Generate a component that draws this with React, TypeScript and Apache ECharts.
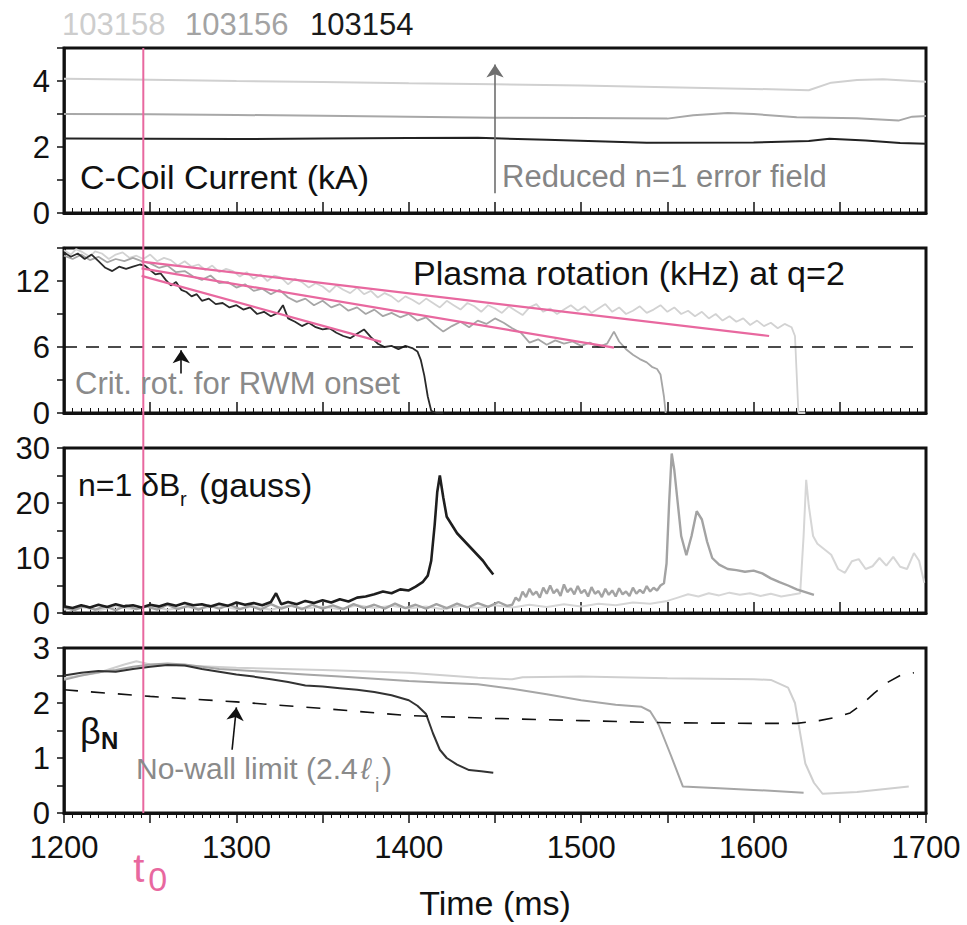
import React, { useEffect, useRef } from 'react';
import * as echarts from 'echarts';

const FONT = '"Liberation Sans", Arial, Helvetica, sans-serif';
const T0 = 1246;

// Shot labels
const shots = ['103158', '103156', '103154'];
const shotColors = ['#cdcdcd', '#a3a3a3', '#1a1a1a'];

// Panel 1: C-coil current (kA)
const coil158 = [[1200, 4.07], [1250, 4.04], [1300, 4.0], [1350, 3.97], [1400, 3.93], [1450, 3.9], [1500, 3.86], [1550, 3.81], [1600, 3.76], [1632, 3.72], [1645, 3.95], [1660, 4.03], [1675, 4.05], [1700, 3.98]];
const coil156 = [[1200, 3.0], [1250, 2.99], [1300, 2.97], [1350, 2.95], [1400, 2.92], [1450, 2.89], [1500, 2.88], [1550, 2.86], [1565, 2.96], [1585, 3.03], [1600, 3.0], [1625, 2.9], [1660, 2.87], [1684, 2.8], [1692, 2.92], [1700, 2.94]];
const coil154 = [[1200, 2.26], [1250, 2.25], [1300, 2.24], [1350, 2.26], [1400, 2.27], [1440, 2.28], [1480, 2.22], [1538, 2.13], [1600, 2.14], [1632, 2.18], [1644, 2.25], [1665, 2.2], [1685, 2.12], [1700, 2.1]];

// Panel 2: plasma rotation (kHz) at q=2
const rot158 = [[1200, 14.8], [1204, 14.4], [1207, 14.9], [1211, 14.6], [1215, 14.2], [1218, 14.7], [1222, 14.5], [1226, 14.0], [1230, 14.4], [1234, 14.6], [1238, 14.1], [1242, 14.3], [1246, 14.0], [1250, 14.4], [1254, 13.8], [1258, 14.1], [1262, 13.9], [1266, 13.4], [1270, 13.8], [1274, 13.3], [1278, 13.5], [1282, 13.0], [1286, 13.4], [1290, 12.8], [1294, 13.1], [1298, 12.9], [1302, 12.4], [1306, 12.8], [1310, 12.2], [1314, 12.6], [1318, 12.0], [1322, 12.5], [1326, 12.3], [1330, 11.7], [1334, 12.2], [1338, 11.9], [1342, 11.4], [1346, 11.8], [1350, 11.5], [1354, 11.0], [1358, 11.6], [1362, 11.2], [1366, 10.9], [1370, 11.4], [1374, 10.8], [1378, 11.1], [1382, 10.5], [1386, 10.9], [1390, 10.6], [1394, 10.1], [1398, 10.6], [1402, 10.3], [1406, 9.9], [1410, 10.4], [1414, 10.0], [1418, 9.6], [1422, 10.2], [1426, 9.8], [1430, 9.4], [1434, 10.0], [1438, 9.7], [1442, 9.2], [1446, 9.8], [1450, 9.5], [1454, 9.1], [1458, 9.7], [1462, 9.3], [1466, 8.9], [1470, 9.6], [1474, 9.9], [1478, 9.2], [1482, 9.5], [1486, 9.0], [1490, 9.4], [1494, 9.8], [1498, 9.3], [1502, 9.7], [1506, 9.1], [1510, 9.5], [1514, 9.9], [1518, 9.2], [1522, 9.6], [1526, 9.0], [1530, 9.3], [1534, 9.7], [1538, 9.1], [1542, 9.4], [1546, 9.8], [1550, 9.2], [1554, 9.6], [1558, 9.0], [1562, 9.3], [1566, 8.8], [1570, 9.2], [1574, 8.6], [1578, 9.0], [1582, 8.4], [1586, 8.8], [1590, 8.3], [1594, 8.6], [1598, 8.0], [1602, 8.4], [1606, 7.9], [1610, 8.2], [1614, 7.7], [1618, 8.1], [1622, 7.8], [1624, 7.0], [1625, 3.5], [1626, 0], [1630, 0]];
const rot156 = [[1200, 14.3], [1205, 14.0], [1210, 14.4], [1215, 13.9], [1220, 14.2], [1225, 13.7], [1230, 14.0], [1235, 13.8], [1240, 14.1], [1245, 13.8], [1250, 13.6], [1255, 13.2], [1260, 13.4], [1265, 12.8], [1270, 12.9], [1275, 12.4], [1280, 12.1], [1285, 12.5], [1290, 11.8], [1295, 11.9], [1300, 11.4], [1305, 11.7], [1310, 11.1], [1315, 11.3], [1320, 10.8], [1325, 11.2], [1330, 10.5], [1335, 10.1], [1340, 10.4], [1345, 9.8], [1350, 10.2], [1355, 9.6], [1360, 9.9], [1365, 9.3], [1370, 9.6], [1375, 9.0], [1380, 9.4], [1385, 8.8], [1390, 9.1], [1395, 8.7], [1400, 9.0], [1405, 8.4], [1410, 8.7], [1415, 8.0], [1420, 7.4], [1425, 7.9], [1430, 8.3], [1435, 7.8], [1440, 8.4], [1445, 8.1], [1450, 8.6], [1455, 8.2], [1460, 7.7], [1465, 7.3], [1470, 6.4], [1475, 6.7], [1480, 6.2], [1485, 6.6], [1490, 6.3], [1495, 6.5], [1500, 6.1], [1505, 6.4], [1510, 6.0], [1515, 6.3], [1519, 7.4], [1522, 6.5], [1526, 5.8], [1530, 5.3], [1534, 4.9], [1538, 4.6], [1541, 4.2], [1544, 4.0], [1546, 3.5], [1548, 1.5], [1549, 0]];
const rot154 = [[1200, 14.6], [1204, 14.2], [1208, 14.5], [1212, 14.0], [1216, 14.4], [1220, 13.8], [1224, 13.2], [1228, 12.9], [1232, 13.3], [1236, 13.1], [1240, 13.3], [1244, 13.5], [1247, 13.4], [1250, 13.0], [1253, 12.6], [1256, 12.7], [1259, 12.1], [1262, 11.6], [1265, 11.9], [1268, 11.2], [1271, 11.0], [1274, 10.6], [1277, 10.8], [1280, 10.2], [1284, 10.4], [1288, 9.9], [1292, 10.0], [1296, 9.6], [1300, 9.8], [1304, 9.4], [1308, 9.6], [1312, 9.0], [1316, 9.2], [1320, 8.8], [1324, 9.1], [1327, 9.8], [1330, 8.6], [1334, 8.3], [1338, 7.9], [1342, 8.2], [1346, 7.8], [1350, 7.6], [1354, 7.7], [1358, 7.3], [1362, 7.0], [1366, 6.8], [1370, 7.2], [1374, 7.6], [1378, 6.9], [1382, 6.3], [1386, 6.0], [1390, 6.1], [1394, 5.8], [1398, 6.1], [1402, 5.9], [1405, 5.6], [1407, 4.8], [1409, 3.4], [1411, 1.5], [1413, 0.2], [1416, 0], [1420, 0]];
const critRot = 6;
const fitLines = [[[1245, 13.76], [1609, 7.0]], [[1245, 13.15], [1519, 5.94]], [[1245, 12.47], [1384, 6.47]]];

// Panel 3: n=1 dBr (gauss)
const br158 = [[1200, 0.6], [1210, 1.1], [1220, 0.5], [1230, 1.2], [1240, 0.7], [1250, 1.3], [1260, 0.6], [1270, 1.1], [1280, 0.8], [1290, 1.4], [1300, 0.7], [1310, 1.2], [1320, 0.6], [1330, 1.3], [1340, 0.8], [1350, 1.2], [1360, 0.7], [1370, 1.4], [1380, 0.9], [1390, 1.3], [1400, 0.8], [1410, 1.2], [1420, 0.7], [1430, 1.3], [1440, 0.9], [1450, 1.4], [1460, 1.0], [1470, 1.5], [1480, 1.1], [1490, 1.6], [1500, 1.2], [1510, 1.7], [1520, 1.4], [1530, 1.9], [1540, 1.7], [1550, 2.2], [1556, 2.8], [1562, 3.4], [1568, 3.0], [1574, 3.6], [1580, 3.2], [1586, 3.7], [1592, 3.3], [1598, 3.6], [1604, 3.1], [1610, 3.5], [1616, 3.0], [1622, 3.3], [1627, 3.6], [1629, 14], [1630.5, 24.2], [1632, 19.5], [1634.5, 14], [1637, 12.6], [1641, 11.6], [1645, 10.6], [1649, 8.0], [1653, 7.3], [1657, 9.4], [1661, 9.8], [1665, 8.0], [1669, 8.5], [1673, 10.0], [1677, 8.6], [1681, 10.2], [1685, 8.4], [1689, 8.0], [1693, 10.9], [1696, 9.5], [1699, 5.5]];
const br156 = [[1200, 1.0], [1206, 0.5], [1212, 1.3], [1218, 0.6], [1224, 1.2], [1230, 0.5], [1236, 1.4], [1242, 0.7], [1248, 1.2], [1254, 0.6], [1260, 1.5], [1266, 0.7], [1272, 1.3], [1278, 0.6], [1284, 1.4], [1290, 0.8], [1296, 1.5], [1302, 0.7], [1308, 1.3], [1314, 0.6], [1320, 1.6], [1326, 0.8], [1332, 1.4], [1338, 0.7], [1344, 1.5], [1350, 0.8], [1356, 1.4], [1362, 0.7], [1368, 1.6], [1374, 0.9], [1380, 1.5], [1386, 0.8], [1392, 1.7], [1398, 0.9], [1404, 1.5], [1410, 0.8], [1416, 1.6], [1422, 0.9], [1428, 1.7], [1434, 1.0], [1440, 1.8], [1446, 1.1], [1452, 2.0], [1457, 1.3], [1460, 1.5], [1462, 2.8], [1464, 2.2], [1466, 3.9], [1468, 2.9], [1470, 4.4], [1472, 3.3], [1474, 3.9], [1476, 2.8], [1478, 4.6], [1480, 3.5], [1482, 5.0], [1484, 3.6], [1486, 4.3], [1488, 3.1], [1490, 5.2], [1492, 3.8], [1494, 4.5], [1496, 3.4], [1498, 4.9], [1500, 3.6], [1502, 4.2], [1504, 3.0], [1506, 4.7], [1508, 3.5], [1510, 4.0], [1512, 2.9], [1514, 4.4], [1516, 3.3], [1518, 4.1], [1520, 3.0], [1522, 4.5], [1524, 3.4], [1526, 3.9], [1528, 3.1], [1530, 4.6], [1532, 3.5], [1534, 4.2], [1536, 3.6], [1538, 4.9], [1540, 3.9], [1542, 4.6], [1544, 4.1], [1546, 5.0], [1548, 5.4], [1549.5, 9], [1551, 20], [1552.5, 29], [1554, 26], [1556, 20], [1558, 14], [1561, 10.5], [1564, 14], [1567, 18.5], [1570, 17], [1573, 13], [1576, 10], [1580, 8.8], [1585, 8.0], [1590, 7.8], [1595, 7.5], [1600, 7.7], [1605, 7.2], [1610, 6.3], [1615, 5.6], [1620, 5.0], [1625, 4.3], [1630, 3.8], [1635, 3.3]];
const br154 = [[1200, 1.2], [1205, 0.9], [1210, 1.4], [1215, 1.0], [1220, 1.5], [1225, 1.1], [1230, 1.6], [1235, 1.2], [1240, 1.4], [1245, 1.0], [1250, 1.5], [1255, 1.2], [1260, 1.7], [1265, 1.3], [1270, 1.8], [1275, 1.4], [1280, 1.6], [1285, 1.2], [1290, 1.7], [1295, 1.3], [1300, 1.9], [1305, 1.5], [1310, 1.8], [1315, 1.4], [1320, 2.0], [1323, 3.6], [1326, 1.6], [1330, 2.0], [1335, 1.6], [1340, 2.2], [1345, 1.8], [1350, 2.3], [1355, 1.9], [1360, 2.5], [1365, 2.1], [1370, 2.8], [1375, 3.0], [1380, 3.4], [1385, 3.9], [1390, 3.6], [1395, 4.3], [1400, 4.1], [1404, 4.8], [1408, 5.6], [1411, 6.8], [1413, 9.5], [1415, 16], [1416.5, 22], [1418, 25], [1420, 21], [1422, 17.5], [1425, 16], [1428, 14.5], [1431, 13.5], [1434, 12.5], [1437, 11.5], [1440, 10.5], [1443, 9.5], [1446, 8.2], [1449, 7.0]];

// Panel 4: beta_N
const beta158 = [[1200, 2.45], [1220, 2.55], [1235, 2.7], [1242, 2.76], [1250, 2.7], [1270, 2.68], [1300, 2.64], [1350, 2.6], [1400, 2.55], [1440, 2.46], [1460, 2.43], [1466, 2.47], [1500, 2.48], [1550, 2.45], [1600, 2.43], [1610, 2.42], [1620, 2.28], [1624, 2.0], [1630, 0.9], [1635, 0.55], [1640, 0.35], [1660, 0.38], [1690, 0.48]];
const beta156 = [[1200, 2.42], [1210, 2.5], [1220, 2.56], [1230, 2.6], [1240, 2.66], [1250, 2.7], [1260, 2.72], [1270, 2.7], [1280, 2.66], [1290, 2.62], [1300, 2.6], [1320, 2.56], [1340, 2.52], [1360, 2.48], [1380, 2.44], [1400, 2.4], [1420, 2.37], [1440, 2.34], [1460, 2.26], [1480, 2.16], [1500, 2.05], [1520, 1.97], [1535, 1.93], [1540, 1.85], [1545, 1.6], [1552, 1.05], [1559, 0.48], [1580, 0.45], [1600, 0.42], [1629, 0.37]];
const beta154 = [[1200, 2.5], [1210, 2.55], [1220, 2.58], [1230, 2.57], [1240, 2.62], [1250, 2.66], [1260, 2.69], [1270, 2.68], [1280, 2.62], [1290, 2.57], [1300, 2.52], [1310, 2.48], [1320, 2.43], [1330, 2.38], [1340, 2.32], [1350, 2.3], [1360, 2.27], [1370, 2.24], [1380, 2.2], [1390, 2.14], [1400, 2.05], [1405, 1.95], [1410, 1.8], [1414, 1.45], [1418, 1.15], [1422, 1.0], [1428, 0.88], [1435, 0.78], [1442, 0.76], [1449, 0.73]];
const noWall = [[1200, 2.24], [1250, 2.12], [1300, 2.02], [1350, 1.9], [1400, 1.77], [1450, 1.72], [1500, 1.68], [1550, 1.64], [1600, 1.63], [1625, 1.63], [1638, 1.68], [1648, 1.74], [1656, 1.82], [1663, 1.98], [1670, 2.18], [1678, 2.38], [1685, 2.5], [1693, 2.55]];

// Axis settings
const xMin = 1200;
const xMax = 1700;
const yMax = [5, 15, 30, 3];
const yStep = [1, 3, 5, 0.5];
const yLabelStep = [2, 6, 10, 1];
const gridTops = [48, 248, 448, 648];

const PINK = '#e8689f';

export default function App() {
  const ref = useRef<HTMLDivElement>(null);
  useEffect(() => {
    const chart = echarts.init(ref.current!, null, { renderer: 'svg' });
    const ln = (data: any, grid: number, color: string, width: number, z: number, extra: any = {}) => ({
      type: 'line', xAxisIndex: grid, yAxisIndex: grid, data, showSymbol: false, symbol: 'none',
      lineStyle: { color, width }, itemStyle: { color }, z, silent: true, ...extra,
    });
    const arrow = (from: number[], to: number[], color: string) => ({
      symbol: ['none', 'arrow'], symbolSize: 13, silent: true, label: { show: false },
      lineStyle: { color, width: 1.6, type: 'solid' },
      data: [[{ coord: from }, { coord: to }]],
    });
    const option: any = {
      animation: false,
      textStyle: { fontFamily: FONT },
      grid: gridTops.map((top) => ({ left: 64, right: 41, top, height: 165, show: true, borderColor: '#111', borderWidth: 3 })),
      xAxis: [0, 1, 2, 3].map((i) => ({
        type: 'value', gridIndex: i, min: xMin, max: xMax, interval: 50,
        axisLine: { show: true, onZero: false, lineStyle: { color: '#111', width: 3 } },
        axisTick: { show: true, inside: i < 3, length: i < 3 ? 11 : 10, lineStyle: { color: '#111', width: 1.5 } },
        minorTick: { show: true, splitNumber: 10, length: 5, lineStyle: { color: '#111', width: 1 } },
        splitLine: { show: false }, minorSplitLine: { show: false },
        axisLabel: i < 3 ? { show: false } : {
          show: true, fontSize: 31, color: '#111', fontFamily: FONT, margin: 19,
          formatter: (v: number) => (v % 100 === 0 ? String(v) : ''),
        },
        name: i === 3 ? 'Time (ms)' : '', nameLocation: 'middle', nameGap: 73,
        nameTextStyle: { fontSize: 34, color: '#111', fontFamily: FONT },
      })),
      yAxis: [0, 1, 2, 3].map((i) => ({
        type: 'value', gridIndex: i, min: 0, max: yMax[i], interval: yStep[i],
        axisLine: { show: true, lineStyle: { color: '#111', width: 2.5 } },
        axisTick: { show: true, length: 7, lineStyle: { color: '#111', width: 1.5 } },
        splitLine: { show: false },
        axisLabel: {
          fontSize: 31, color: '#111', fontFamily: FONT, margin: 14,
          formatter: (v: number) => (Math.abs(v / yLabelStep[i] - Math.round(v / yLabelStep[i])) < 1e-6 && v <= yMax[i] && !(i < 2 && v === yMax[i]) ? String(v) : ''),
        },
      })),
      series: [
        ln(coil158, 0, '#d0d0d0', 2, 2),
        ln(coil156, 0, '#a8a8a8', 2, 3),
        ln(coil154, 0, '#222', 2, 4, { markLine: arrow([1450, 0.6], [1450, 4.5], '#6f6f6f') }),

        ln(rot158, 1, '#d2d2d2', 1.8, 2),
        ln(rot156, 1, '#a6a6a6', 1.8, 3),
        ln(rot154, 1, '#2a2a2a', 1.8, 4),
        {
          type: 'line', xAxisIndex: 1, yAxisIndex: 1, data: [], z: 6, silent: true,
          markLine: {
            symbol: ['none', 'none'], silent: true, label: { show: false },
            lineStyle: { color: '#111', width: 1.6, type: [13, 9] },
            data: [[{ coord: [xMin, critRot] }, { coord: [1693, critRot] }]],
          },
        },
        {
          type: 'line', xAxisIndex: 1, yAxisIndex: 1, data: [], z: 7, silent: true,
          markLine: arrow([1268, 3.6], [1268, 5.7], '#111'),
        },
        {
          type: 'line', xAxisIndex: 1, yAxisIndex: 1, data: [], z: 8, silent: true,
          markLine: {
            symbol: ['none', 'none'], silent: true, label: { show: false },
            lineStyle: { color: PINK, width: 2.2, type: 'solid' },
            data: fitLines.map((f) => [{ coord: f[0] }, { coord: f[1] }]),
          },
        },

        ln(br158, 2, '#d6d6d6', 2, 2),
        ln(br156, 2, '#a3a3a3', 2.4, 3),
        ln(br154, 2, '#1e1e1e', 2.6, 4),

        ln(beta158, 3, '#cfcfcf', 2, 2),
        ln(beta156, 3, '#a6a6a6', 2, 3),
        ln(beta154, 3, '#333', 2, 4),
        ln(noWall, 3, '#111', 1.6, 5, {
          lineStyle: { color: '#111', width: 1.6, type: [14, 13] },
          markLine: arrow([1297.5, 1.15], [1300, 1.92], '#111'),
        }),
      ],
    };
    chart.setOption(option);

    const px = chart.convertToPixel({ xAxisIndex: 0 }, T0) as number;
    const yTop = chart.convertToPixel({ yAxisIndex: 0 }, yMax[0]) as number;
    const yBot = chart.convertToPixel({ yAxisIndex: 3 }, 0) as number;

    const txt = (text: string, x: number, y: number, size: number, fill: string, extra: any = {}) => ({
      type: 'text', x, y, silent: true, z: 50,
      style: { text, fill, font: `${extra.style || 'normal'} ${extra.weight || 'normal'} ${size}px ${FONT}`, textVerticalAlign: 'middle', verticalAlign: 'middle', textAlign: 'left', align: 'left' },
    });

    chart.setOption({
      graphic: [
        { type: 'line', silent: true, z: 40, shape: { x1: px, y1: yTop, x2: px, y2: yBot }, style: { stroke: PINK, lineWidth: 2 } },
        txt(shots[0], 62, 24, 31, shotColors[0]),
        txt(shots[1], 185, 24, 31, shotColors[1]),
        txt(shots[2], 310, 24, 31, shotColors[2]),
        txt('C-Coil Current (kA)', 80, 177, 34, '#111'),
        txt('Reduced n=1 error field', 502, 176, 31, '#858585'),
        txt('Plasma rotation (kHz) at q=2', 413, 273, 34, '#111'),
        txt('Crit. rot. for RWM onset', 75, 383, 31, '#8a8a8a'),
        txt('n=1 δB', 78, 485, 32, '#111'),
        txt('r', 180, 499, 20, '#111'),
        txt('(gauss)', 199, 485, 34, '#111'),
        txt('β', 80, 731, 36, '#111'),
        txt('N', 101, 740, 24, '#111', { weight: 'bold' }),
        txt('No-wall limit (2.4', 136, 768, 30, '#8a8a8a'),
        txt('ℓ', 361, 768, 30, '#8a8a8a', { style: 'italic' }),
        txt('i', 375, 785, 20, '#8a8a8a'),
        txt(')', 382, 768, 30, '#8a8a8a'),
        txt('t', px - 10, 868, 40, PINK),
        txt('0', px + 5, 879, 34, PINK),
      ],
    });

    return () => chart.dispose();
  }, []);
  return <div ref={ref} style={{ position: 'fixed', left: 0, top: 0, width: 967, height: 925, background: '#fff' }} />;
}
